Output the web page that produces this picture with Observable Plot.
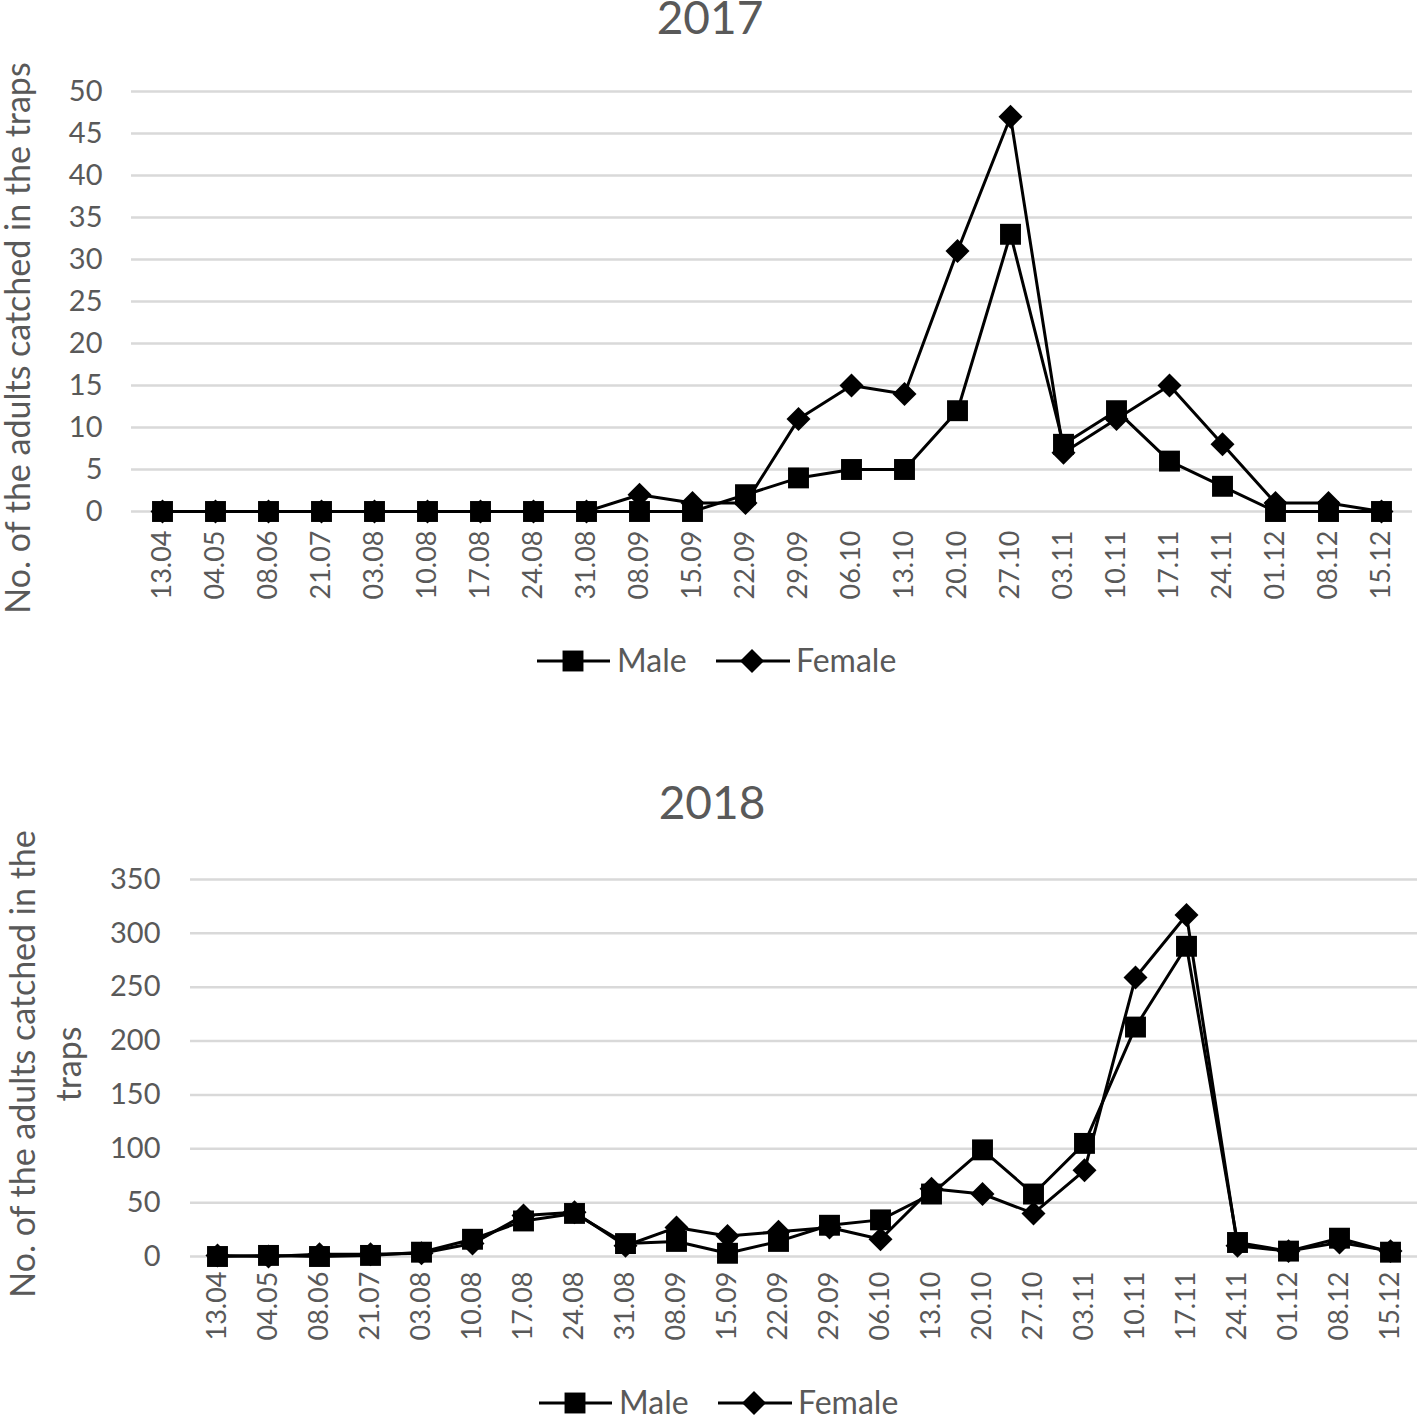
<!DOCTYPE html>
<html>
<head>
<meta charset="utf-8">
<script src="https://cdn.jsdelivr.net/npm/d3@7"></script>
<script src="https://cdn.jsdelivr.net/npm/@observablehq/plot@0.6"></script>
<style>
  html, body { margin:0; padding:0; background:#fff; }
  body { width:1418px; height:1417px; position:relative; overflow:hidden; font-family: Lato, "Open Sans", sans-serif; color:#595959; }
  .abs { position:absolute; }
  .title { font-size:46px; line-height:46px; text-align:center; width:400px; }
  .ylab { font-size:34px; line-height:46px; text-align:center; white-space:nowrap; transform:rotate(-90deg); transform-origin:50% 50%; }
</style>
</head>
<body>
<div id="root"></div>
<script>
// ---- data ----
const dates = ["13.04","04.05","08.06","21.07","03.08","10.08","17.08","24.08","31.08","08.09","15.09","22.09","29.09","06.10","13.10","20.10","27.10","03.11","10.11","17.11","24.11","01.12","08.12","15.12"];
const male2017   = [0,0,0,0,0,0,0,0,0,0,0,2,4,5,5,12,33,8,12,6,3,0,0,0];
const female2017 = [0,0,0,0,0,0,0,0,0,2,1,1,11,15,14,31,47,7,11,15,8,1,1,0];
const male2018   = [0,1,0,1,4,16,33,40,12,14,3,14,29,34,58,99,58,105,213,288,13,5,17,4];
const female2018 = [1,0,2,2,3,12,38,41,10,27,19,23,27,16,63,58,40,80,259,317,10,5,13,5];
const ticks2017 = [0,5,10,15,20,25,30,35,40,45,50];
const ticks2018 = [0,50,100,150,200,250,300,350];
const seriesNames = ["Male","Female"];
const yLabel = "No. of the adults catched in the traps";

const root = document.getElementById("root");

function rows(vals){ return dates.map((d,i)=>({date:d, v:vals[i]})); }

function panel(o){
  const m = rows(o.male), f = rows(o.female);
  const chart = Plot.plot({
    width:1418, height:o.height,
    marginLeft:o.ml, marginRight:o.mr, marginTop:o.mt, marginBottom:o.mb,
    style:{fontFamily:"Lato, 'Open Sans', sans-serif", color:"#595959", background:"transparent", overflow:"visible"},
    x:{type:"point", domain:dates, padding:0.5, label:null},
    y:{domain:[0, o.ticks[o.ticks.length-1]], label:null},
    marks:[
      Plot.ruleY(o.ticks, {stroke:"#d9d9d9", strokeWidth:2.5}),
      Plot.axisY({ticks:o.ticks, tickSize:0, tickPadding:o.ytp, fontSize:29, label:null}),
      Plot.axisX({tickRotate:-90, tickSize:0, tickPadding:o.xtp, fontSize:27, label:null}),
      Plot.line(m, {x:"date", y:"v", stroke:"black", strokeWidth:3}),
      Plot.dot(m, {x:"date", y:"v", symbol:"square", r:11.8, fill:"black"}),
      Plot.line(f, {x:"date", y:"v", stroke:"black", strokeWidth:3}),
      Plot.dot(f, {x:"date", y:"v", symbol:"diamond2", r:10.8, fill:"black"})
    ]
  });
  chart.style.position = "absolute";
  chart.style.left = "0px";
  chart.style.top = o.top + "px";
  root.appendChild(chart);
}

function addDiv(cls, html, css){
  const d = document.createElement("div");
  d.className = "abs " + cls;
  d.innerHTML = html;
  Object.assign(d.style, css);
  root.appendChild(d);
  return d;
}

function legend(cx, cy){
  const svg = d3.create("svg").attr("width", 420).attr("height", 44)
    .style("position","absolute").style("left",(cx-193)+"px").style("top",(cy-22)+"px");
  const g = svg.append("g");
  // Male
  g.append("line").attr("x1",17).attr("x2",90).attr("y1",22).attr("y2",22).attr("stroke","black").attr("stroke-width",3);
  g.append("path").attr("d", d3.symbol(d3.symbolSquare, Math.PI*11.8*11.8)()).attr("transform","translate(53,22)");
  g.append("text").attr("x",97).attr("y",33).attr("font-size",32).attr("fill","#595959").attr("font-family","Lato, sans-serif").text(seriesNames[0]);
  // Female
  g.append("line").attr("x1",196).attr("x2",270).attr("y1",22).attr("y2",22).attr("stroke","black").attr("stroke-width",3);
  g.append("path").attr("d", d3.symbol(d3.symbolDiamond2, Math.PI*10.8*10.8)()).attr("transform","translate(232,22)");
  g.append("text").attr("x",276).attr("y",33).attr("font-size",32).attr("fill","#595959").attr("font-family","Lato, sans-serif").text(seriesNames[1]);
  root.appendChild(svg.node());
}

// ---- 2017 ----
panel({male:male2017, female:female2017, ticks:ticks2017, top:40, height:600, ml:131, mr:6, mt:51, mb:129, ytp:29, xtp:19});
addDiv("title", "2017", {left:"510px", top:"-6px"});
addDiv("ylab", yLabel, {left:(17-400)+"px", top:(338-23)+"px", width:"800px"});
legend(713, 661);

// ---- 2018 ----
panel({male:male2018, female:female2018, ticks:ticks2018, top:840, height:530, ml:190, mr:1, mt:39, mb:114, ytp:30, xtp:15});
addDiv("title", "2018", {left:"512px", top:"779px"});
addDiv("ylab", "No. of the adults catched in the<br>traps", {left:(45-400)+"px", top:(1064-46)+"px", width:"800px"});
legend(715, 1403);
</script>
</body>
</html>
